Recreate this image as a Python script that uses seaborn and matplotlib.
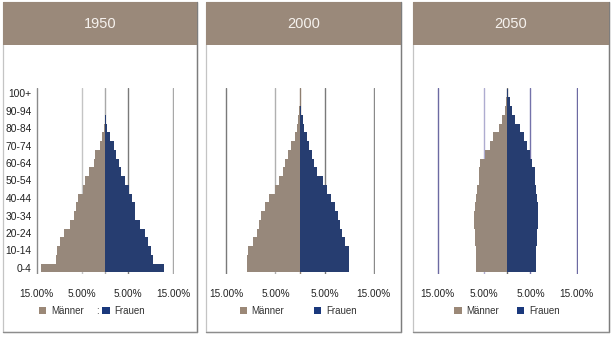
import numpy as np
import pandas as pd
import matplotlib
matplotlib.use("Agg")
import matplotlib.pyplot as plt
from matplotlib.patches import Rectangle, Patch
from matplotlib.lines import Line2D
import seaborn as sns

# ---------------- data ----------------
ages = ["0-4", "5-9", "10-14", "15-19", "20-24", "25-29", "30-34", "35-39",
        "40-44", "45-49", "50-54", "55-59", "60-64", "65-69", "70-74",
        "75-79", "80-84", "85-89", "90-94", "95-99", "100+"]
years = ["1950", "2000", "2050"]

male_1950 = [14.0, 10.8, 10.5, 9.8, 9.0, 7.7, 6.8, 6.4, 5.9, 4.9, 4.4,
             3.5, 2.5, 2.1, 1.2, 0.7, 0.2, 0.05, 0.0, 0.0, 0.0]
female_1950 = [13.0, 10.6, 10.1, 9.4, 8.7, 7.8, 6.7, 6.5, 6.0, 5.3, 4.5,
               3.6, 3.0, 2.5, 1.9, 1.0, 0.5, 0.2, 0.05, 0.0, 0.0]

male_2000 = [10.75, 10.75, 10.5, 9.6, 8.8, 8.4, 8.0, 7.2, 6.2, 5.1, 4.2,
             3.5, 3.05, 2.4, 1.8, 1.0, 0.6, 0.32, 0.13, 0.03, 0.0]
female_2000 = [10.0, 9.9, 9.9, 9.2, 8.6, 8.2, 7.7, 7.1, 6.2, 5.5, 4.6,
               3.5, 2.9, 2.4, 1.85, 1.4, 0.9, 0.55, 0.3, 0.1, 0.02]

male_2050 = [6.8, 6.8, 6.8, 6.9, 7.0, 7.2, 7.2, 6.9, 6.7, 6.5, 6.2,
             6.1, 5.8, 4.9, 3.8, 3.0, 1.85, 1.1, 0.6, 0.35, 0.1]
female_2050 = [6.3, 6.3, 6.3, 6.4, 6.5, 6.6, 6.6, 6.6, 6.4, 6.2, 6.0,
               5.9, 5.4, 4.8, 4.2, 3.5, 2.7, 1.6, 1.1, 0.5, 0.2]

tick_values = [-15, -5, 5, 15]
tick_labels = ["15.00%", "5.00%", "5.00%", "15.00%"]
sex_labels = ["Männer", "Frauen"]

# ---------------- style ----------------
sns.set_style("white")
plt.rcParams["font.family"] = ["Liberation Sans", "DejaVu Sans"]

male_c = "#9B8877"
female_c = "#1A387C"
header_c = "#9A897A"

W, H = 613, 337
fig = plt.figure(figsize=(W / 100, H / 100), dpi=100)
fig.patch.set_facecolor("white")


def fx(px):
    return px / W


def fy(py):
    return 1 - py / H


# panel geometry (pixels)
panels = [
    dict(x0=3, x1=197, center=105.0, scale=4.55, leg_c=92, colspace=1.9,
         grid=["#8a8a8a", "#c4c4c4", "#a8a8a8", "#7a7a7a", "#a8a8a8"]),
    dict(x0=206, x1=401, center=300.0, scale=4.92, leg_c=298, colspace=3.0,
         grid=["#7a7a7a", "#b0b0b0", "#8f7f70", "#7a7a7a", "#8a8a8a"]),
    dict(x0=413, x1=609, center=507.3, scale=4.63, leg_c=507, colspace=1.8,
         grid=["#6c6aa2", "#aeacd0", "#6a6a6a", "#7472aa", "#6c6aa2"]),
]
data = [(male_1950, female_1950), (male_2000, female_2000),
        (male_2050, female_2050)]

ax_top, ax_bot = 88, 274
row0, row_h = 268.0, 8.75
xlim = 15.2

for i, (p, (m, f), year) in enumerate(zip(panels, data, years)):
    # panel frame
    fig.patches.append(Rectangle((fx(p["x0"]), fy(332)), fx(p["x1"] - p["x0"]),
                                 (332 - 2) / H, transform=fig.transFigure,
                                 facecolor="white", edgecolor="#c4c4c4",
                                 lw=0.9, zorder=-10))
    fig.lines.append(Line2D([fx(p["x1"]), fx(p["x1"])], [fy(2), fy(332)],
                            transform=fig.transFigure, color="#7d7d7d",
                            lw=1.0, zorder=-9))
    fig.lines.append(Line2D([fx(p["x0"]), fx(p["x1"])], [fy(332), fy(332)],
                            transform=fig.transFigure, color="#8d8d8d",
                            lw=1.0, zorder=-9))
    # header
    fig.patches.append(Rectangle((fx(p["x0"]), fy(45)), fx(p["x1"] - p["x0"]),
                                 43 / H, transform=fig.transFigure,
                                 facecolor=header_c, edgecolor="none",
                                 zorder=-8))
    fig.text(fx((p["x0"] + p["x1"]) / 2), fy(24), year, ha="center",
             va="center", color="#f6f2ee", fontsize=10.5)

    # plot axes
    left = p["center"] - xlim * p["scale"]
    width = 2 * xlim * p["scale"]
    ax = fig.add_axes([fx(left), fy(ax_bot), fx(width), (ax_bot - ax_top) / H])
    ax.patch.set_visible(False)

    df = pd.DataFrame({
        "age": ages + ages,
        "value": [-v for v in m] + list(f),
        "sex": [sex_labels[0]] * len(ages) + [sex_labels[1]] * len(ages),
    })
    sns.barplot(data=df, x="value", y="age", hue="sex", order=ages[::-1],
                hue_order=sex_labels, palette=[male_c, female_c],
                orient="h", dodge=False, width=1.0, linewidth=0,
                errorbar=None, legend=False, ax=ax, zorder=3)

    for xv, c in zip([-15, -5, 0, 5, 15], p["grid"]):
        ax.axvline(xv, color=c, lw=1.0, zorder=1)

    ax.set_xlim(-xlim, xlim)
    ax.set_ylim(20 + (ax_bot - row0) / row_h, -(row0 - 20 * row_h - ax_top) / row_h)
    ax.set_xticks(tick_values)
    ax.set_xticklabels(tick_labels)
    ax.tick_params(axis="x", length=0, pad=11, labelsize=7.2, labelcolor="#222222")
    if i == 0:
        ax.set_yticks([20 - 2 * k for k in range(11)])
        ax.set_yticklabels(ages[::2])
        ax.tick_params(axis="y", length=0, pad=3, labelsize=7.4, labelcolor="#222222")
    else:
        ax.set_yticks([])
    ax.set_xlabel("")
    ax.set_ylabel("")
    for s in ax.spines.values():
        s.set_visible(False)

    handles = [Patch(facecolor=male_c, edgecolor="none"),
               Patch(facecolor=female_c, edgecolor="none")]
    ax.legend(handles, sex_labels, ncol=2, loc="center",
              bbox_to_anchor=(fx(p["leg_c"]), fy(311)),
              bbox_transform=fig.transFigure, frameon=False,
              fontsize=7, handlelength=0.75, handleheight=0.8,
              handletextpad=0.5, columnspacing=p["colspace"],
              labelcolor="#333333")

fig.text(fx(97), fy(311), ":", ha="center", va="center", fontsize=7,
         color="#333333")

fig.savefig("out.png", dpi=100, facecolor="white")
